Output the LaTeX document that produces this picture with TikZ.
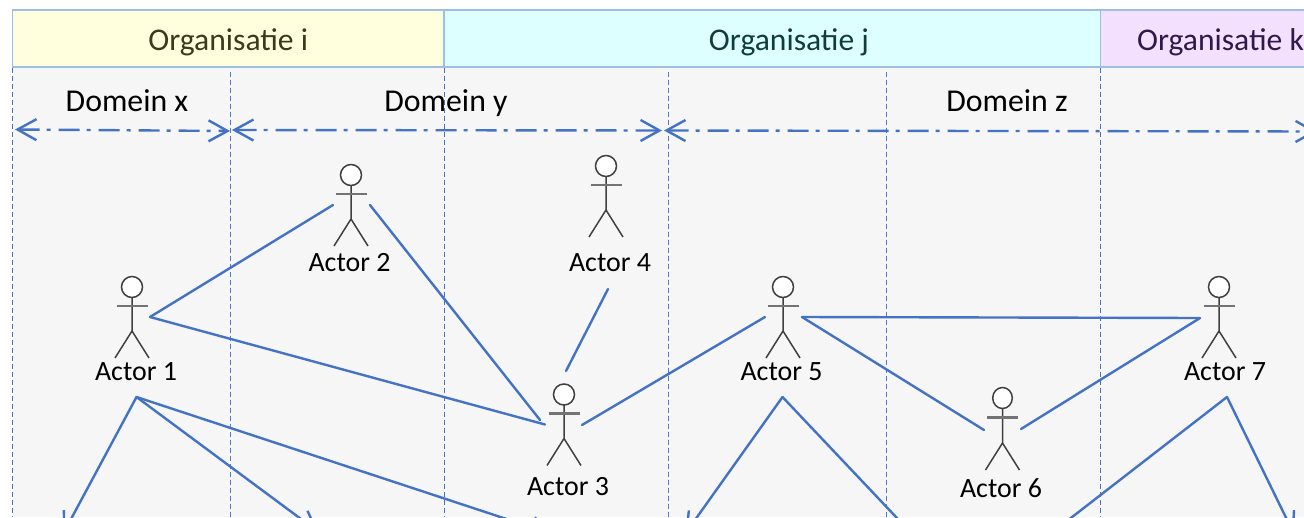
\documentclass[tikz,border=0pt]{standalone}
\usepackage{fontspec}
\setmainfont{Carlito}
\usetikzlibrary{arrows.meta}
\definecolor{lnk}{HTML}{4472C4}
\definecolor{lnkl}{HTML}{4F7BD0}
\definecolor{hdr}{HTML}{9DBFE6}
\definecolor{bodybg}{HTML}{F6F6F6}
\definecolor{fyel}{HTML}{FFFFDD}
\definecolor{fcya}{HTML}{DDFFFF}
\definecolor{fvio}{HTML}{F3E0FF}
\definecolor{tyel}{HTML}{3A3A1C}
\definecolor{tcya}{HTML}{103C3C}
\definecolor{tvio}{HTML}{2E1A48}
\tikzset{
  x=1pt,y=-1pt,
  orgbox/.style={draw=hdr,line width=1.2pt,inner sep=0pt,minimum height=57pt,text height=24pt,text depth=0.4pt,font=\fontsize{31.6}{34}\selectfont},
  orgtxt/.style={inner sep=0pt,anchor=base,font=\fontsize{31.6}{34}\selectfont},
  domtxt/.style={inner sep=0pt,anchor=base,font=\fontsize{31.8}{34}\selectfont,text=black},
  acttxt/.style={inner sep=0pt,anchor=base,font=\fontsize{27.9}{30}\selectfont,text=black},
  lane/.style={draw=lnk,line width=1pt,dash pattern=on 5pt off 3pt},
  lanes/.style={draw=lnkl,line width=1pt,dash pattern=on 5pt off 3pt},
  span/.style={draw=lnk,line width=2.4pt,dash pattern=on 21pt off 7pt on 4pt off 8pt,
     {Straight Barb[length=19pt,width=21pt,line width=2.4pt]}-{Straight Barb[length=19pt,width=21pt,line width=2.4pt]}},
  link/.style={draw=lnk,line width=2.4pt,line cap=round},
  linka/.style={link,-{Straight Barb[length=19pt,width=21pt,line width=2.4pt]}},
  stick/.style={draw=black!75,line width=1.5pt},
  arm/.style={draw=black!55,line width=2.2pt},
  actor/.pic={
    \draw[stick,fill=white] (0,0) circle[radius=10.5];
    \draw[stick] (0,10.5) -- (0,44) (-17,71) -- (0,44) -- (17,71);
    \draw[arm] (-15.5,19) -- (15.5,19);
  },
  actorn/.pic={
    \draw[stick,fill=white] (0,0) ellipse[x radius=9.8,y radius=10.5];
    \draw[stick] (0,10.5) -- (0,45) (-17,72) -- (0,45) -- (17,72);
    \draw[arm] (-15.5,19.5) -- (15.5,19.5);
  }
}
\begin{document}
\begin{tikzpicture}
\useasboundingbox (0,0) rectangle (1304,517);
\clip (0,0) rectangle (1304,517);
\fill[bodybg] (13,67) rectangle (1304,517);
% organisation headers
\node[orgbox,fill=fyel,text=tyel,minimum width=431.5pt] (orgi) at (228.25,38.5) {Organisatie i};
\node[orgbox,fill=fcya,minimum width=656pt] (orgj) at (772.5,38.5) {};
\node[orgtxt,text=tcya] (orgjt) at (789,50.3) {Organisatie j};
\node[orgbox,fill=fvio,text=tvio,minimum width=240pt] (orgk) at (1220.5,38.5) {Organisatie k};
% lane separators
\coordinate (l1t) at (12.5,68);   \coordinate (l1b) at (12.5,517);
\coordinate (l2t) at (230.7,72);  \coordinate (l2b) at (230.7,517);
\coordinate (l3t) at (444.5,68);\coordinate (l3b) at (444.5,517);
\coordinate (l4t) at (668.5,72);  \coordinate (l4b) at (668.5,517);
\coordinate (l5t) at (886.7,72);  \coordinate (l5b) at (886.7,517);
\coordinate (l6t) at (1100.5,68);\coordinate (l6b) at (1100.5,517);
\draw[lane] (l1t) -- (l1b);
\draw[lanes] (l2t) -- (l2b);
\draw[lane] (l3t) -- (l3b);
\draw[lanes] (l4t) -- (l4b);
\draw[lanes] (l5t) -- (l5b);
\draw[lane] (l6t) -- (l6b);
% domains
\node[domtxt] (dx) at (127,111.3) {Domein x};
\node[domtxt] (dy) at (446,111.3) {Domein y};
\node[domtxt] (dz) at (1007,111.3) {Domein z};
\coordinate (s0) at (15,129.5);
\coordinate (s1a) at (230,131);
\coordinate (s1b) at (232,130);
\coordinate (s2a) at (662,130.5);
\coordinate (s2b) at (664,130.5);
\coordinate (s3) at (1317,131.5);
\draw[span] (s0) -- (s1a);
\draw[span] (s1b) -- (s2a);
\draw[span] (s2b) -- (s3);
% actors
\pic at (132,287) {actor};
\pic at (351,175) {actor};
\pic at (564,394.5) {actor};
\pic at (606,166) {actor};
\pic at (783,287) {actor};
\pic at (1002.5,398) {actorn};
\pic at (1219,287) {actor};
\node[acttxt] (n1) at (136,380.5) {Actor 1};
\node[acttxt] (n2) at (349.5,271) {Actor 2};
\node[acttxt] (n3) at (568,495) {Actor 3};
\node[acttxt] (n4) at (610,271) {Actor 4};
\node[acttxt] (n5) at (781.5,380.5) {Actor 5};
\node[acttxt] (n6) at (1001,497) {Actor 6};
\node[acttxt] (n7) at (1225,380.5) {Actor 7};
% connector ends
\coordinate (p1) at (150,317);
\coordinate (p2l) at (333,205);
\coordinate (p2r) at (370,205);
\coordinate (p3a) at (545,424.5);
\coordinate (p3b) at (540,420);
\coordinate (p3c) at (566,371);
\coordinate (p3d) at (582,425);
\coordinate (p4) at (608,289);
\coordinate (p5a) at (765,317);
\coordinate (p5b) at (802,317);
\coordinate (p6a) at (984,430);
\coordinate (p6b) at (1021,429);
\coordinate (p7) at (1200,318);
\coordinate (q1) at (136.5,397);
\coordinate (q5) at (782.5,397);
\coordinate (q7) at (1227,397);
\coordinate (t1) at (63,534);
\coordinate (t2) at (318.5,532);
\coordinate (t3) at (552,534);
\coordinate (t4) at (685,534);
\coordinate (t5) at (922.5,545);
\coordinate (t6) at (1036,545);
\coordinate (t7) at (1294,534);
\draw[link] (p1) -- (p2l);
\draw[link] (p1) -- (p3a);
\draw[link] (p2r) -- (p3b);
\draw[link] (p4) -- (p3c);
\draw[link] (p3d) -- (p5a);
\draw[link] (p5b) -- (p7);
\draw[link] (p5b) -- (p6a);
\draw[link] (p6b) -- (p7);
\draw[linka] (q1) -- (t1);
\draw[linka] (q1) -- (t2);
\draw[linka] (q1) -- (t3);
\draw[linka] (q5) -- (t4);
\draw[linka] (q5) -- (t5);
\draw[linka] (q7) -- (t6);
\draw[linka] (q7) -- (t7);
\end{tikzpicture}
\end{document}
